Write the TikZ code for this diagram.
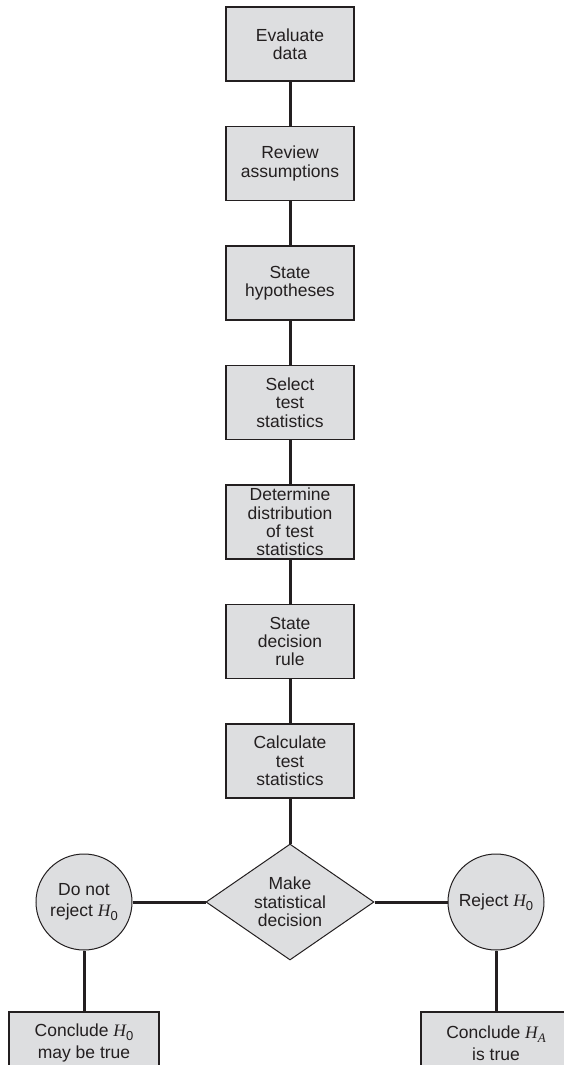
\documentclass[tikz,border=0pt]{standalone}
\usepackage{fontspec}
\setmainfont{Liberation Sans}
\newfontfamily\serifit{Liberation Serif}
\usetikzlibrary{shapes.geometric}
\definecolor{boxfill}{RGB}{221,222,224}
\definecolor{ink}{RGB}{35,31,32}
\newcommand{\Hsub}[1]{{\serifit\itshape H}\raisebox{-0.4ex}{\fontsize{13}{13}\selectfont #1}}
\begin{document}
\begin{tikzpicture}[x=1pt,y=-1pt,
  font=\fontsize{17.5}{18.3}\selectfont,
  stepbox/.style={draw=ink, line width=1.5pt, fill=boxfill, minimum width=128pt, minimum height=74pt, align=center, text=ink, inner sep=0pt},
  endbox/.style={draw=ink, line width=1.5pt, fill=boxfill, minimum width=150pt, minimum height=62pt, align=center, text=ink, inner sep=0pt, font=\fontsize{17.5}{21.5}\selectfont},
  decision/.style={diamond, draw=ink, line width=1pt, fill=boxfill, minimum width=168pt, minimum height=116pt, inner sep=0pt},
  outcome/.style={circle, draw=ink, line width=1pt, fill=boxfill, minimum size=96pt, align=center, text=ink, inner sep=0pt, font=\fontsize{17.5}{21}\selectfont},
  link/.style={draw=ink, line width=3pt}]
\useasboundingbox (0,0) rectangle (564,1065);
\clip (0,0) rectangle (564,1065);
\node[stepbox] (e1) at (290,44) {Evaluate\\data};
\node[stepbox] (e2) at (290,163.5) {Review\\assumptions};
\node[stepbox] (e3) at (290,283) {State\\hypotheses};
\node[stepbox] (e4) at (290,402.5) {Select\\test\\statistics};
\node[stepbox] (e5) at (290,522) {Determine\\distribution\\of test\\statistics};
\node[stepbox] (e6) at (290,641.5) {State\\decision\\rule};
\node[stepbox] (e7) at (290,761) {Calculate\\test\\statistics};
\node[decision] (dec) at (290,902) {};
\node[text=ink, align=center, inner sep=0pt] (dect) at (dec) {Make\\statistical\\decision};
\node[outcome] (nr) at (84,902) {Do not\\reject \Hsub{0}};
\node[outcome] (rj) at (496,902) {Reject \Hsub{0}};
\node[endbox] (c1) at (84,1043) {Conclude \Hsub{0}\\may be true};
\node[endbox] (c2) at (496,1043) {Conclude \Hsub{\serifit\itshape A}\\is true};
\draw[link] (e1.south) -- (e2.north);
\draw[link] (e2.south) -- (e3.north);
\draw[link] (e3.south) -- (e4.north);
\draw[link] (e4.south) -- (e5.north);
\draw[link] (e5.south) -- (e6.north);
\draw[link] (e6.south) -- (e7.north);
\draw[link] (e7.south) -- (dec.north);
\draw[link] (dec.west) -- (nr.east);
\draw[link] (dec.east) -- (rj.west);
\draw[link] (nr.south) -- (c1.north);
\draw[link] (rj.south) -- (c2.north);
\end{tikzpicture}
\end{document}
